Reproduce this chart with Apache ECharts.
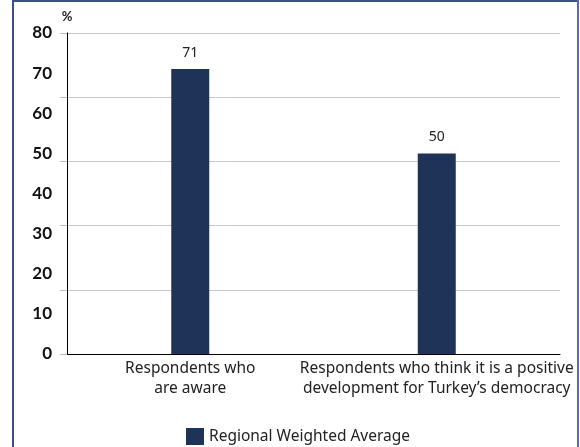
<!DOCTYPE html>
<html><head><meta charset="utf-8">
<script src="https://cdn.jsdelivr.net/npm/echarts@6/dist/echarts.min.js"></script>
<style>html,body{margin:0;padding:0;background:#fff}#c{width:580px;height:447px}</style>
</head><body><div id="c"></div>
<script>
const categories = ['Respondents who\nare aware', 'Respondents who think it is a positive\ndevelopment for Turkey\u2019s democracy'];
const seriesName = 'Regional Weighted Average';
const values = [71, 50];
const yMax = 80;

const chart = echarts.init(document.getElementById('c'));
chart.setOption({
  animation: false,
  graphic: [
    {type: 'line', shape: {x1: 13, y1: 0, x2: 13, y2: 447}, style: {stroke: '#3a5283', lineWidth: 2}},
    {type: 'line', shape: {x1: 12, y1: 1, x2: 579, y2: 1}, style: {stroke: '#3a5283', lineWidth: 2}},
    {type: 'line', shape: {x1: 578, y1: 0, x2: 578, y2: 447}, style: {stroke: '#5a6f99', lineWidth: 2}}
  ],
  grid: {left: 67, right: 20, top: 33, bottom: 93, containLabel: false},
  legend: {
    left: 181, top: 423, itemWidth: 18, itemHeight: 17, itemGap: 8,
    icon: 'rect',
    textStyle: {fontFamily: 'Noto Sans', fontSize: 15.5, color: '#222', padding: [0, 0, 0, 0]},
    data: [seriesName]
  },
  xAxis: {
    type: 'category', data: categories,
    axisLine: {lineStyle: {color: '#000', width: 1}},
    axisTick: {show: false},
    axisLabel: {interval: 0, fontFamily: 'Noto Sans', fontSize: 15.5, color: '#222', lineHeight: 20, margin: 5}
  },
  yAxis: [
    {
      type: 'value', min: 0, max: yMax, interval: 10,
      name: '%', nameLocation: 'end', nameGap: 10,
      nameTextStyle: {fontFamily: 'Lato', fontSize: 13, color: '#222', fontWeight: 'bold'},
      axisLine: {show: true, lineStyle: {color: '#000', width: 1}},
      axisTick: {show: false},
      splitLine: {show: false},
      axisLabel: {fontFamily: 'Lato', fontWeight: 'bold', fontSize: 17, color: '#111', margin: 15}
    },
    {
      type: 'value', min: 0, max: yMax, interval: 16, position: 'left',
      axisLine: {show: false},
      axisLabel: {show: false},
      axisTick: {show: true, length: 7, lineStyle: {color: '#bdbdbd'}},
      splitLine: {show: true, lineStyle: {color: '#c8c8c8', width: 1}}
    }
  ],
  series: [{
    name: seriesName, type: 'bar', data: values, barWidth: 38,
    itemStyle: {color: '#1f3257'},
    label: {show: true, position: 'top', distance: 9, fontFamily: 'Noto Sans', fontSize: 14, color: '#222'}
  }]
});
</script></body></html>
